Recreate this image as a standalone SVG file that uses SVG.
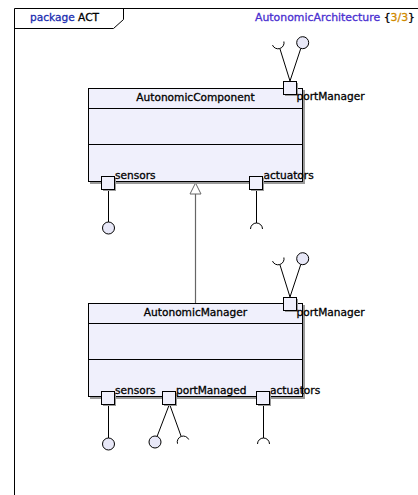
<svg xmlns="http://www.w3.org/2000/svg" width="418" height="495" viewBox="0 0 418 495">
<defs>
<style>
.t{font-family:"DejaVu Sans",Verdana,sans-serif;font-size:10.6px;fill:#000;stroke:#000;stroke-width:0.3}
.hd{font-size:10.9px}
.blue{fill:#1a2cb0;stroke:#1a2cb0}
.purple{fill:#4a2fd0;stroke:#4a2fd0}
.orange{fill:#d08a00;stroke:#d08a00}
.cls{fill:#f0f0fc;stroke:#000;stroke-width:1}
.sh{fill:#9a9a9a}
.ln{stroke:#000;stroke-width:1;fill:none}
.port{fill:#f0f0fc;stroke:#000;stroke-width:1}
.iface{fill:#e8e8f8;stroke:#000;stroke-width:1}
.gen{stroke:#666;stroke-width:1.2;fill:none}
</style>
</defs>
<rect x="0" y="0" width="418" height="495" fill="#fff"/>
<g id="frame">
<path d="M14.5 495 V8.5 H418" class="ln"/>
<path d="M14.5 28.5 H113.5 L123.5 19.5 V8.5" class="ln"/>
<text x="30" y="20.5" class="t"><tspan class="blue">package</tspan> <tspan>ACT</tspan></text>
<text x="255" y="20.5" class="t hd"><tspan class="purple">AutonomicArchitecture</tspan> <tspan>{</tspan><tspan class="orange">3/3</tspan><tspan>}</tspan></text>
</g>
<g id="connectors">
<line x1="195.5" y1="194" x2="195.5" y2="303" class="gen"/>
<polygon points="195.5,183 190,194 201,194" fill="#fff" stroke="#666" stroke-width="1"/>
</g>
<g id="AutonomicComponent">
<rect x="90" y="90" width="215" height="94" class="sh"/>
<rect x="88.5" y="88.5" width="214" height="93" class="cls"/>
<line x1="88.5" y1="108.5" x2="302.5" y2="108.5" class="ln"/>
<line x1="88.5" y1="144.5" x2="302.5" y2="144.5" class="ln"/>
<text x="195.5" y="101" text-anchor="middle" class="t">AutonomicComponent</text>
</g>
<g id="AC_portManager">
<line x1="290" y1="81" x2="280" y2="49" class="ln"/>
<path d="M272.5 45.1 A6 6 0 0 0 283.9 41.5" class="ln"/>
<line x1="290" y1="81" x2="300.8" y2="48.4" class="ln"/>
<circle cx="302.7" cy="42.7" r="6" class="iface"/>
<rect x="285" y="83" width="13" height="13" class="sh"/>
<rect x="283.5" y="81.5" width="13" height="13" class="port"/>
<text x="296.5" y="100" class="t">portManager</text>
</g>
<g id="AC_sensors">
<line x1="108.5" y1="189" x2="108.5" y2="222" class="ln"/>
<circle cx="108.5" cy="228" r="6" class="iface"/>
<rect x="103" y="178" width="13" height="13" class="sh"/>
<rect x="101.5" y="176.5" width="13" height="13" class="port"/>
<text x="115" y="178.5" class="t">sensors</text>
</g>
<g id="AC_actuators">
<line x1="256.5" y1="189" x2="256.5" y2="223" class="ln"/>
<path d="M250.5 229 A6 6 0 0 1 262.5 229" class="ln"/>
<rect x="251" y="178" width="13" height="13" class="sh"/>
<rect x="249.5" y="176.5" width="13" height="13" class="port"/>
<text x="263.5" y="178.5" class="t">actuators</text>
</g>
<g id="AutonomicManager">
<rect x="90" y="305" width="215" height="94" class="sh"/>
<rect x="88.5" y="303.5" width="214" height="93" class="cls"/>
<line x1="88.5" y1="323.5" x2="302.5" y2="323.5" class="ln"/>
<line x1="88.5" y1="359.5" x2="302.5" y2="359.5" class="ln"/>
<text x="195.5" y="316" text-anchor="middle" class="t">AutonomicManager</text>
</g>
<g id="AM_portManager">
<line x1="290" y1="297" x2="280" y2="265" class="ln"/>
<path d="M272.5 261.1 A6 6 0 0 0 283.9 257.5" class="ln"/>
<line x1="290" y1="297" x2="300.8" y2="264.4" class="ln"/>
<circle cx="302.7" cy="258.7" r="6" class="iface"/>
<rect x="285" y="299" width="13" height="13" class="sh"/>
<rect x="283.5" y="297.5" width="13" height="13" class="port"/>
<text x="296.5" y="315.5" class="t">portManager</text>
</g>
<g id="AM_sensors">
<line x1="108.5" y1="404" x2="108.5" y2="438" class="ln"/>
<circle cx="108.5" cy="444" r="6" class="iface"/>
<rect x="103" y="393" width="13" height="13" class="sh"/>
<rect x="101.5" y="391.5" width="13" height="13" class="port"/>
<text x="115" y="394" class="t">sensors</text>
</g>
<g id="AM_portManaged">
<line x1="169.5" y1="404" x2="157.1" y2="436.4" class="ln"/>
<circle cx="155" cy="442" r="6" class="iface"/>
<line x1="169.5" y1="404" x2="181" y2="436" class="ln"/>
<path d="M177.5 443.7 A6 6 0 0 1 188.7 439.5" class="ln"/>
<rect x="164" y="393" width="13" height="13" class="sh"/>
<rect x="162.5" y="391.5" width="13" height="13" class="port"/>
<text x="176" y="394" class="t">portManaged</text>
</g>
<g id="AM_actuators">
<line x1="263.5" y1="404" x2="263.5" y2="438" class="ln"/>
<path d="M257.5 444 A6 6 0 0 1 269.5 444" class="ln"/>
<rect x="258" y="393" width="13" height="13" class="sh"/>
<rect x="256.5" y="391.5" width="13" height="13" class="port"/>
<text x="270" y="394" class="t">actuators</text>
</g>
</svg>
